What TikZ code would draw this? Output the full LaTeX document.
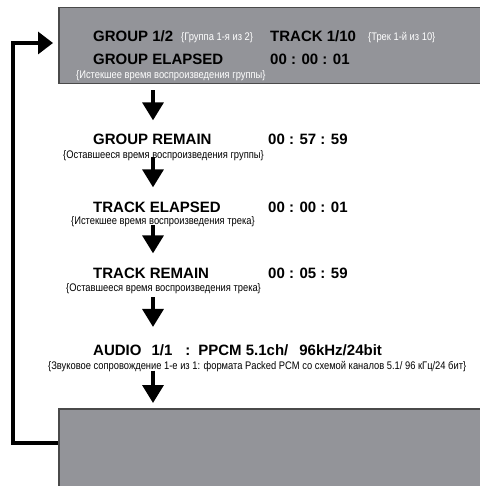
\documentclass[tikz,border=0pt]{standalone}
\usepackage{fontspec}
\setmainfont{Liberation Sans}
\newfontfamily\notefont{Liberation Sans}[FakeStretch=0.85]
\usetikzlibrary{arrows.meta,positioning,calc}
\definecolor{Panel}{HTML}{939499}
\definecolor{Rim}{HTML}{4A4A4A}

\begin{document}
\begin{tikzpicture}[x=1pt,y=-1pt,
  panel/.style={fill=Panel,draw=Rim,line width=1.5pt},
  head/.style={font=\fontsize{15}{15}\selectfont\bfseries,inner sep=0pt,anchor=base west},
  note/.style={font=\notefont\fontsize{11}{11}\selectfont,inner sep=0pt,anchor=base west},
  flow/.style={line width=3.5pt,-{Triangle[width=21pt,length=18pt]}},
  loop/.style={line width=3.3pt,-{Triangle[width=22pt,length=15pt]}}]
  \useasboundingbox (0,0) rectangle (479,486);
  % panels
  \node[panel,minimum width=423pt,minimum height=76pt,anchor=north west] (top) at (58,7) {};
  \node[panel,minimum width=423pt,minimum height=82pt,anchor=north west] (bot) at (58,408) {};
  % group / track
  \node[head] (grp) at (93,42) {GROUP 1/2};
  \node[note,white] (grpru) at (181,41) {\{Группа 1-я из 2\}};
  \node[head] (trk) at (270,42) {TRACK 1/10};
  \node[note,white] (trkru) at (368,41) {\{Трек 1-й из 10\}};
  \node[head] (gel) at (93,65) {GROUP ELAPSED};
  \node[head] (geltime) at (270,65) {00 : 00 : 01};
  \node[note,white] (gelru) at (76,79) {\{Истекшее время воспроизведения группы\}};
  % remaining rows
  \node[head] (grm) at (93,145) {GROUP REMAIN};
  \node[head] (grmtime) at (268,145) {00 : 57 : 59};
  \node[note] (grmru) at (63,159) {\{Оставшееся время воспроизведения группы\}};
  \node[head] (tel) at (93,212) {TRACK ELAPSED};
  \node[head] (teltime) at (268,212) {00 : 00 : 01};
  \node[note] (telru) at (71,224) {\{Истекшее время воспроизведения трека\}};
  \node[head] (trm) at (93,278) {TRACK REMAIN};
  \node[head] (trmtime) at (268,278) {00 : 05 : 59};
  \node[note] (trmru) at (66,291) {\{Оставшееся время воспроизведения трека\}};
  \node[head] (aud) at (93,355) {AUDIO\hspace{10pt}1/1\hspace{13pt}:\hspace{8pt}PPCM 5.1ch/\hspace{11pt}96kHz/24bit};
  \node[note] (audru) at (48,369) {\{Звуковое сопровождение 1-е из 1: формата Packed PCM со схемой каналов 5.1/ 96 кГц/24 бит\}};
  % arrows
  \coordinate (ax) at (153,0);
  \draw[flow,shorten <=6pt,shorten >=14pt] (top.south -| ax) -- (grm.north -| ax);
  \draw[flow,shorten <=12pt,shorten >=14pt] (grm.south -| ax) -- (tel.north -| ax);
  \draw[flow,shorten <=13pt,shorten >=14pt] (tel.south -| ax) -- (trm.north -| ax);
  \draw[flow,shorten <=19pt,shorten >=17pt] (trm.south -| ax) -- (aud.north -| ax);
  \draw[flow,shorten <=15pt,shorten >=5pt] (aud.south -| ax) -- (bot.north -| ax);
  % return line
  \coordinate (retin) at (58,443);
  \coordinate (retup) at (13,43);
  \draw[loop,shorten >=5pt] (retin) -| (retup) -- (top.west |- retup);
\end{tikzpicture}
\end{document}
